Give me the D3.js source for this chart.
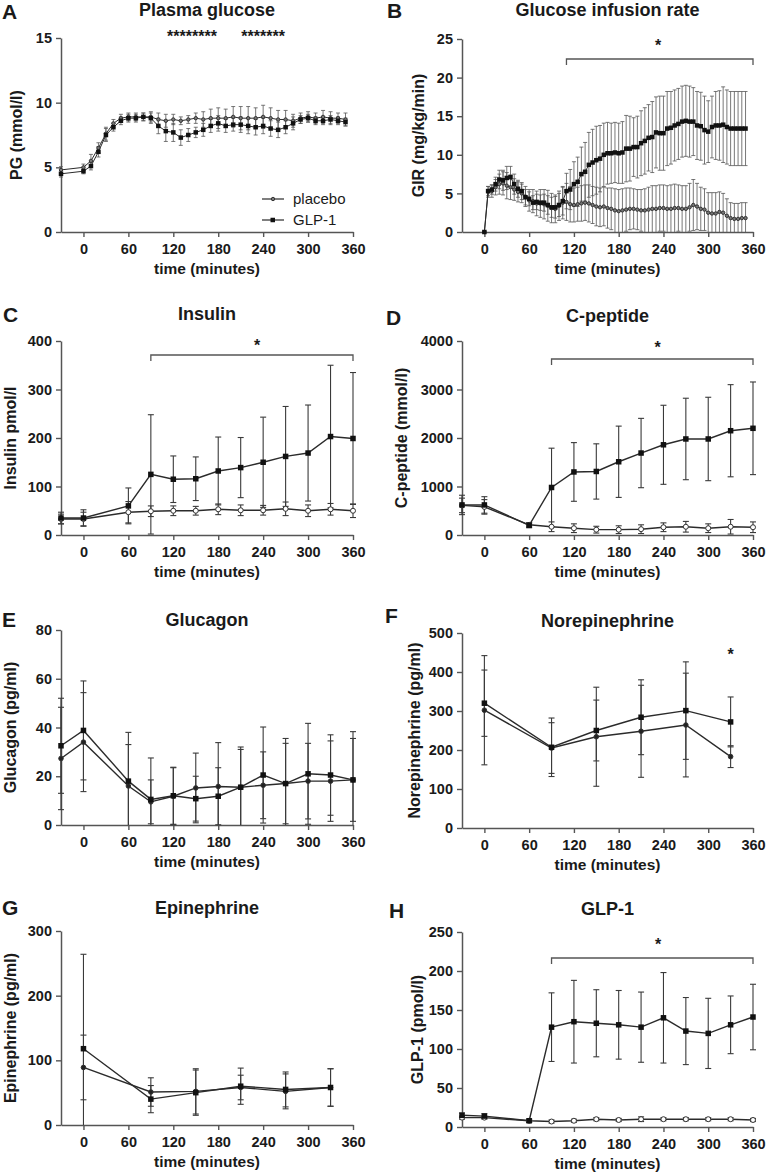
<!DOCTYPE html>
<html><head><meta charset="utf-8">
<script src="https://cdn.jsdelivr.net/npm/d3@7"></script>
<style>
body{margin:0;background:#fff}
text{font-family:"Liberation Sans",Arial,Helvetica,sans-serif;fill:#1a1a1a}
</style>
</head><body><script>
// ---------- DATA ----------
const xTickValues = [0, 60, 120, 180, 240, 300, 360];
const timesStd = [-30, 0, 60, 90, 120, 150, 180, 210, 240, 270, 300, 330, 360];
const timesCat = [0, 90, 150, 210, 270, 330];

// A: plasma glucose (mmol/l)
const timesA = [-30, 0, 10, 20, 30, 40, 50, 60, 70, 80, 90, 100, 110, 120, 130, 140, 150, 160, 170, 180, 190, 200, 210, 220, 230, 240, 250, 260, 270, 280, 290, 300, 310, 320, 330, 340, 350];
const pgGlp = [4.5, 4.7, 5.1, 6.2, 7.5, 8.1, 8.6, 8.8, 8.8, 8.9, 8.8, 8.2, 7.8, 7.7, 7.3, 7.5, 7.7, 7.9, 8.2, 8.4, 8.2, 8.3, 8.3, 8.2, 8.1, 8.2, 8.0, 7.9, 8.1, 8.4, 8.7, 8.8, 8.6, 8.6, 8.7, 8.6, 8.5];
const pgGlpSd = [0.25, 0.2, 0.3, 0.4, 0.5, 0.3, 0.3, 0.3, 0.3, 0.3, 0.4, 0.6, 0.8, 0.7, 0.6, 0.5, 0.4, 0.5, 0.5, 0.6, 0.5, 0.5, 0.6, 0.6, 0.6, 0.6, 0.6, 0.6, 0.5, 0.5, 0.3, 0.3, 0.3, 0.3, 0.3, 0.3, 0.3];
const pgPla = [4.8, 5.0, 5.5, 6.5, 7.6, 8.4, 8.8, 8.9, 8.9, 8.9, 8.9, 8.7, 8.6, 8.7, 8.6, 8.7, 8.8, 8.7, 8.8, 8.8, 8.8, 8.9, 8.8, 8.8, 8.8, 8.9, 8.8, 8.7, 8.7, 8.6, 8.8, 8.9, 8.8, 8.9, 8.8, 8.8, 8.7];
const pgPlaSd = [0.25, 0.25, 0.5, 0.4, 0.5, 0.3, 0.3, 0.3, 0.3, 0.3, 0.4, 0.5, 0.5, 0.4, 0.3, 0.3, 0.4, 0.6, 0.7, 0.8, 0.7, 0.8, 0.9, 0.9, 0.8, 0.9, 0.8, 0.7, 0.7, 0.5, 0.4, 0.4, 0.4, 0.5, 0.5, 0.4, 0.5];

// B: glucose infusion rate (mg/kg/min)
const timesB = [0, 5, 10, 15, 20, 25, 30, 35, 40, 45, 50, 55, 60, 65, 70, 75, 80, 85, 90, 95, 100, 105, 110, 115, 120, 125, 130, 135, 140, 145, 150, 155, 160, 165, 170, 175, 180, 185, 190, 195, 200, 205, 210, 215, 220, 225, 230, 235, 240, 245, 250, 255, 260, 265, 270, 275, 280, 285, 290, 295, 300, 305, 310, 315, 320, 325, 330, 335, 340, 345, 350];
const girGlp = [0, 5.3, 5.5, 6.2, 6.8, 6.7, 7.0, 7.1, 6.2, 5.6, 5.3, 4.5, 4.3, 3.8, 3.9, 3.8, 3.8, 3.5, 3.2, 3.2, 3.5, 4.0, 5.3, 5.5, 6.2, 6.5, 7.5, 7.8, 8.7, 9.0, 9.3, 9.5, 10.0, 10.2, 10.2, 10.3, 10.2, 10.3, 10.8, 10.8, 11.0, 11.0, 11.5, 11.8, 12.2, 12.3, 12.9, 12.8, 12.8, 13.4, 13.5, 13.8, 14.0, 14.3, 14.4, 14.3, 14.3, 13.8, 13.7, 13.2, 13.0, 13.6, 13.8, 13.8, 13.9, 13.6, 13.4, 13.4, 13.4, 13.4, 13.4];
const girGlpSd = [0, 0.6, 0.6, 0.9, 1.2, 1.3, 1.5, 1.4, 1.3, 1.1, 1.1, 1.0, 0.9, 0.9, 1.0, 1.0, 1.1, 1.2, 1.3, 1.4, 1.5, 1.8, 2.3, 2.6, 2.9, 3.2, 3.5, 3.8, 4.2, 4.3, 4.4, 4.3, 4.1, 4.0, 3.9, 3.9, 3.9, 4.0, 4.3, 4.2, 3.8, 4.0, 4.2, 4.3, 4.3, 4.6, 4.6, 4.8, 4.8, 4.8, 4.7, 4.6, 4.6, 4.6, 4.6, 4.6, 4.4, 4.4, 4.4, 4.4, 4.0, 4.0, 4.4, 4.5, 4.9, 4.8, 4.8, 4.8, 4.8, 4.8, 4.8];
const girPla = [0, 5.2, 5.3, 5.8, 6.2, 6.3, 6.0, 5.8, 5.5, 5.2, 5.0, 4.6, 4.1, 4.0, 3.7, 3.7, 3.6, 3.4, 3.1, 3.0, 3.4, 3.8, 3.9, 3.6, 3.5, 3.6, 3.7, 3.8, 3.7, 3.5, 3.3, 3.2, 3.3, 3.1, 3.0, 2.8, 2.7, 2.8, 2.9, 3.0, 3.0, 2.9, 2.8, 2.8, 2.9, 3.0, 3.0, 3.1, 3.1, 3.0, 3.0, 3.1, 3.1, 3.0, 3.0, 3.2, 3.5, 3.3, 3.0, 2.9, 2.5, 2.4, 2.4, 2.6, 2.5, 2.1, 1.8, 1.7, 1.7, 1.8, 1.8];
const girPlaSd = [0, 0.7, 0.8, 1.0, 1.3, 1.5, 1.7, 1.6, 1.4, 1.3, 1.2, 1.3, 1.4, 1.5, 1.6, 1.8, 1.9, 2.0, 1.9, 1.8, 1.9, 2.1, 2.4, 2.3, 2.2, 2.2, 2.3, 2.3, 2.4, 2.4, 2.5, 2.5, 2.5, 2.6, 2.7, 2.8, 2.8, 2.8, 2.8, 2.7, 2.6, 2.6, 2.7, 2.8, 2.9, 3.0, 3.0, 3.0, 3.0, 3.0, 3.1, 3.1, 3.0, 3.0, 3.0, 3.1, 3.3, 3.0, 2.8, 2.7, 2.6, 2.7, 2.7, 2.6, 2.5, 2.2, 2.0, 2.0, 2.0, 2.0, 2.0];

// C: insulin (pmol/l)
const insGlp = [35, 35, 60, 125, 115, 116, 132, 139, 150, 162, 169, 203, 199];
const insGlpSd = [12, 17, 37, 123, 48, 45, 70, 62, 93, 103, 99, 147, 136];
const insPla = [33, 33, 47, 49, 50, 50, 53, 51, 51, 54, 50, 53, 50];
const insPlaSd = [10, 14, 22, 11, 10, 9, 11, 11, 10, 14, 12, 12, 14];

// D: C-peptide
const cpGlp = [620, 620, 200, 980, 1300, 1310, 1510, 1690, 1860, 1980, 1980, 2150, 2200];
const cpGlpSd = [200, 170, 50, 810, 605, 570, 735, 715, 815, 840, 860, 950, 955];
const cpPla = [610, 580, 210, 170, 140, 110, 110, 120, 160, 170, 140, 170, 160];
const cpPlaSd = [150, 150, 40, 100, 90, 70, 80, 90, 90, 110, 90, 150, 110];

// E: glucagon (pg/ml)
const gcgGlp = [32.5, 38.8, 18.0, 10.5, 12.0, 10.8, 11.8, 15.5, 20.5, 17.0, 21.0, 20.5, 18.5];
const gcgGlpSd = [19.5, 20.3, 20.0, 17.0, 11.7, 9.2, 11.7, 16.5, 19.7, 18.5, 20.7, 16.5, 19.8];
const gcgPla = [27.3, 34.0, 16.0, 9.5, 11.8, 15.2, 15.8, 15.5, 16.3, 17.0, 18.0, 18.0, 18.5];
const gcgPlaSd = [21.0, 20.3, 17.0, 9.0, 11.7, 14.3, 18.0, 15.5, 13.7, 16.5, 15.5, 16.5, 17.0];

// F: norepinephrine (pg/ml)
const neGlp = [320, 207, 250, 284, 301, 272];
const neGlpSd = [85, 75, 78, 96, 125, 64];
const nePla = [302, 205, 234, 248, 264, 183];
const nePlaSd = [140, 65, 127, 118, 133, 28];

// G: epinephrine (pg/ml)
const epiGlp = [118, 40, 50, 60, 55, 58];
const epiGlpSd = [146, 21, 35, 28, 27, 29];
const epiPla = [89, 51, 52, 58, 52, 58];
const epiPlaSd = [50, 22, 35, 19, 27, 29];

// H: GLP-1 (pmol/l)
const glpGlp = [15, 14, 8, 128, 135, 133, 131, 128, 140, 123, 120, 131, 141];
const glpGlpSd = [3, 3, 2, 44, 53, 43, 44, 45, 58, 43, 45, 37, 42];
const glpPla = [12, 12, 8, 7, 8, 10, 9, 10, 10, 10, 10, 10, 9];
const glpPlaSd = [2, 2, 2, 2, 2, 2, 2, 3, 2, 2, 2, 2, 2];

// ---------- DRAW ----------
const svg = d3.select("body").append("svg").attr("width", 768).attr("height", 1173);
const LEFT = [61, 353], RIGHT = [462, 753];

function drawPanel(p) {
  const x = d3.scaleLinear().domain([-30, 360]).range(p.xr);
  const y = d3.scaleLinear().domain(p.yd).range(p.yr).clamp(true);
  const g = svg.append("g");

  // axes
  const ax = g.append("g").attr("transform", `translate(0,${p.yr[0]})`)
    .call(d3.axisBottom(x).tickValues(xTickValues).tickSize(5).tickSizeOuter(0).tickFormat(d3.format("d")));
  ax.selectAll("text").attr("dy", null).attr("y", 22);
  const ay = g.append("g").attr("transform", `translate(${p.xr[0]},0)`)
    .call(d3.axisLeft(y).tickValues(p.yt).tickSize(5).tickSizeOuter(0).tickPadding(4).tickFormat(d3.format("d")));
  [ax, ay].forEach(a => {
    a.select(".domain").attr("stroke", "#555").attr("stroke-width", 1.5);
    a.selectAll(".tick line").attr("stroke", "#555").attr("stroke-width", 1.4);
    a.selectAll("text").attr("font-size", 14.5).attr("font-weight", "bold").attr("fill", "#1a1a1a")
      .attr("font-family", "'Liberation Sans',Arial,sans-serif");
  });

  // labels
  g.append("text").attr("x", p.letterX).attr("y", p.letterY).text(p.letter)
    .attr("font-size", 21).attr("font-weight", "bold");
  g.append("text").attr("x", (p.xr[0] + p.xr[1]) / 2).attr("y", p.titleY).attr("text-anchor", "middle")
    .attr("font-size", 18).attr("font-weight", "bold").text(p.title);
  g.append("text").attr("x", (p.xr[0] + p.xr[1]) / 2).attr("y", p.yr[0] + 42).attr("text-anchor", "middle")
    .attr("font-size", 15.5).attr("font-weight", "bold").text("time (minutes)");
  const yc = (p.yr[0] + p.yr[1]) / 2;
  g.append("text").attr("transform", `translate(${p.ylx},${yc}) rotate(-90)`).attr("text-anchor", "middle")
    .attr("dy", "0.36em").attr("font-size", 16).attr("font-weight", "bold").text(p.ylabel);

  // series
  const capW = p.dense ? 4 : 6;
  p.series.forEach(s => {
    const pts = s.t.map((t, i) => ({ t: t, v: s.v[i], sd: s.sd[i] }));
    const eg = g.append("g").attr("stroke", p.dense ? "#555" : "#3a3a3a").attr("stroke-width", p.dense ? 0.8 : 1.1);
    pts.forEach(d => {
      if (!d.sd) return;
      const cx = x(d.t), y1 = y(d.v + d.sd), y0 = y(d.v - d.sd);
      eg.append("line").attr("x1", cx).attr("x2", cx).attr("y1", y1).attr("y2", y0);
      eg.append("line").attr("x1", cx - capW / 2).attr("x2", cx + capW / 2).attr("y1", y1).attr("y2", y1);
      if (d.v - d.sd > p.yd[0])
        eg.append("line").attr("x1", cx - capW / 2).attr("x2", cx + capW / 2).attr("y1", y0).attr("y2", y0);
    });
  });
  p.series.forEach(s => {
    const pts = s.t.map((t, i) => ({ t: t, v: s.v[i] }));
    g.append("path").datum(pts)
      .attr("d", d3.line().x(d => x(d.t)).y(d => y(d.v)))
      .attr("fill", "none").attr("stroke", "#2b2b2b").attr("stroke-width", p.dense ? 1 : 1.4);
  });
  p.series.forEach(s => {
    const pts = s.t.map((t, i) => ({ t: t, v: s.v[i] }));
    if (s.kind === "glp") {
      const sz = p.dense ? 4.5 : 5.5;
      g.selectAll(null).data(pts).enter().append("rect")
        .attr("x", d => x(d.t) - sz / 2).attr("y", d => y(d.v) - sz / 2)
        .attr("width", sz).attr("height", sz).attr("fill", "#111");
    } else {
      g.selectAll(null).data(pts).enter().append("circle")
        .attr("cx", d => x(d.t)).attr("cy", d => y(d.v)).attr("r", p.dense ? 1.7 : (p.plaFill ? 2.3 : 2.5))
        .attr("fill", p.plaFill ? "#222" : (p.dense ? "#777" : "#fff")).attr("stroke", "#333").attr("stroke-width", 1);
    }
  });

  // significance
  if (p.bracket) {
    const b = p.bracket;
    g.append("path").attr("d", `M${x(b.from)},${b.y + 6}V${b.y}H${x(b.to)}V${b.y + 6}`)
      .attr("fill", "none").attr("stroke", "#555").attr("stroke-width", 1.3);
  }
  (p.stars || []).forEach(st => {
    g.append("text").attr("x", x(st.t)).attr("y", st.y).attr("text-anchor", "middle")
      .attr("font-size", 16).attr("font-weight", "bold").text(st.s);
  });
  return { g: g, x: x, y: y };
}

const A = drawPanel({
  letter: "A", letterX: 2, letterY: 19, title: "Plasma glucose", titleY: 16,
  xr: LEFT, yr: [232, 38], yd: [0, 15], yt: [0, 5, 10, 15], ylabel: "PG (mmol/l)", ylx: 16, dense: true,
  series: [{ t: timesA, v: pgPla, sd: pgPlaSd, kind: "pla" }, { t: timesA, v: pgGlp, sd: pgGlpSd, kind: "glp" }],
  stars: [{ t: 145, y: 42, s: "********" }, { t: 240, y: 42, s: "*******" }]
});
// legend
const legend = [{ label: "placebo", kind: "pla", y: 199 }, { label: "GLP-1", kind: "glp", y: 220 }];
legend.forEach(l => {
  A.g.append("line").attr("x1", 262).attr("x2", 284).attr("y1", l.y).attr("y2", l.y).attr("stroke", "#2b2b2b").attr("stroke-width", 1.2);
  if (l.kind === "glp") A.g.append("rect").attr("x", 270.5).attr("y", l.y - 2.25).attr("width", 4.5).attr("height", 4.5).attr("fill", "#111");
  else A.g.append("circle").attr("cx", 273).attr("cy", l.y).attr("r", 1.7).attr("fill", "#777").attr("stroke", "#333");
  A.g.append("text").attr("x", 293).attr("y", l.y + 5).attr("font-size", 15).text(l.label);
});

drawPanel({
  letter: "B", letterX: 387, letterY: 18, title: "Glucose infusion rate", titleY: 16,
  xr: RIGHT, yr: [232, 39], yd: [0, 25], yt: [0, 5, 10, 15, 20, 25], ylabel: "GIR (mg/kg/min)", ylx: 418, dense: true,
  series: [{ t: timesB, v: girPla, sd: girPlaSd, kind: "pla" }, { t: timesB, v: girGlp, sd: girGlpSd, kind: "glp" }],
  bracket: { from: 110, to: 360, y: 59 }, stars: [{ t: 233, y: 51, s: "*" }]
});

drawPanel({
  letter: "C", letterX: 3, letterY: 322, title: "Insulin", titleY: 320,
  xr: LEFT, yr: [535, 341], yd: [0, 400], yt: [0, 100, 200, 300, 400], ylabel: "Insulin pmol/l", ylx: 10,
  series: [{ t: timesStd, v: insPla, sd: insPlaSd, kind: "pla" }, { t: timesStd, v: insGlp, sd: insGlpSd, kind: "glp" }],
  bracket: { from: 90, to: 360, y: 355 }, stars: [{ t: 232, y: 351, s: "*" }]
});

drawPanel({
  letter: "D", letterX: 386, letterY: 325, title: "C-peptide", titleY: 322,
  xr: RIGHT, yr: [535, 341], yd: [0, 4000], yt: [0, 1000, 2000, 3000, 4000], ylabel: "C-peptide (mmol/l)", ylx: 401,
  series: [{ t: timesStd, v: cpPla, sd: cpPlaSd, kind: "pla" }, { t: timesStd, v: cpGlp, sd: cpGlpSd, kind: "glp" }],
  bracket: { from: 90, to: 360, y: 359 }, stars: [{ t: 232, y: 353, s: "*" }]
});

drawPanel({
  letter: "E", letterX: 2, letterY: 627, title: "Glucagon", titleY: 626,
  xr: LEFT, yr: [825, 630], yd: [0, 80], yt: [0, 20, 40, 60, 80], ylabel: "Glucagon (pg/ml)", ylx: 10, plaFill: true,
  series: [{ t: timesStd, v: gcgPla, sd: gcgPlaSd, kind: "pla" }, { t: timesStd, v: gcgGlp, sd: gcgGlpSd, kind: "glp" }]
});

drawPanel({
  letter: "F", letterX: 385, letterY: 623, title: "Norepinephrine", titleY: 627,
  xr: RIGHT, yr: [828, 633], yd: [0, 500], yt: [0, 100, 200, 300, 400, 500], ylabel: "Norepinephrine (pg/ml)", ylx: 414, plaFill: true,
  series: [{ t: timesCat, v: nePla, sd: nePlaSd, kind: "pla" }, { t: timesCat, v: neGlp, sd: neGlpSd, kind: "glp" }],
  stars: [{ t: 330, y: 660, s: "*" }]
});

drawPanel({
  letter: "G", letterX: 2, letterY: 915, title: "Epinephrine", titleY: 914,
  xr: LEFT, yr: [1125, 931], yd: [0, 300], yt: [0, 100, 200, 300], ylabel: "Epinephrine (pg/ml)", ylx: 10, plaFill: true,
  series: [{ t: timesCat, v: epiPla, sd: epiPlaSd, kind: "pla" }, { t: timesCat, v: epiGlp, sd: epiGlpSd, kind: "glp" }]
});

drawPanel({
  letter: "H", letterX: 389, letterY: 918, title: "GLP-1", titleY: 915,
  xr: RIGHT, yr: [1127, 932], yd: [0, 250], yt: [0, 50, 100, 150, 200, 250], ylabel: "GLP-1 (pmol/l)", ylx: 417,
  series: [{ t: timesStd, v: glpPla, sd: glpPlaSd, kind: "pla" }, { t: timesStd, v: glpGlp, sd: glpGlpSd, kind: "glp" }],
  bracket: { from: 90, to: 360, y: 958 }, stars: [{ t: 233, y: 950, s: "*" }]
});
</script></body></html>
